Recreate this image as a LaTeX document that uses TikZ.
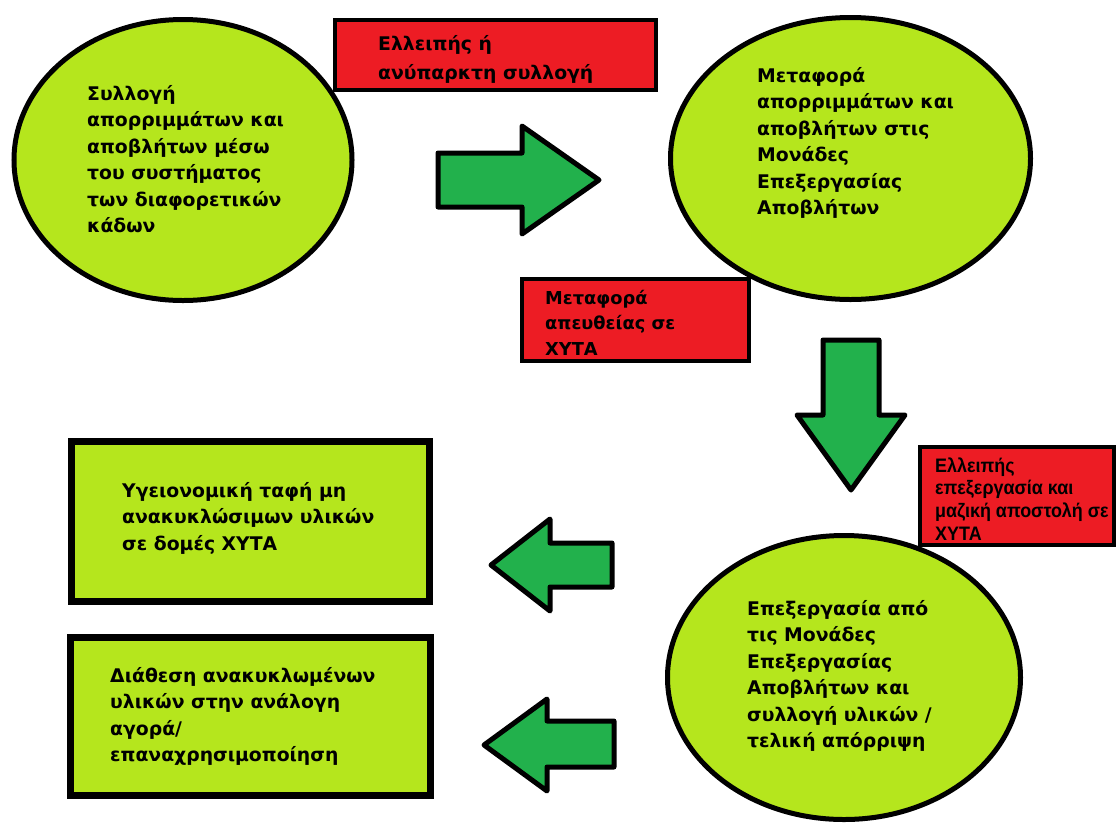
\documentclass[tikz,border=0pt]{standalone}
\usepackage{fontspec}
\setmainfont{Liberation Sans}
\newfontfamily\dvs{DejaVu Sans}
\newfontfamily\narrowfont[FakeStretch=0.92]{Liberation Sans}
\usetikzlibrary{shapes.geometric}
\definecolor{limefill}{RGB}{181,230,29}
\definecolor{redfill}{RGB}{237,28,36}
\definecolor{arrowgreen}{RGB}{34,177,76}
\begin{document}
\begin{tikzpicture}[x=1pt,y=-1pt,
  oval/.style={ellipse, draw=black, line width=5pt, fill=limefill, inner sep=0pt},
  gbox/.style={rectangle, draw=black, line width=7pt, fill=limefill, inner sep=0pt},
  rbox/.style={rectangle, draw=black, line width=4pt, fill=redfill, inner sep=0pt},
  blockarrow/.style={draw=black, line width=5pt, fill=arrowgreen, line join=round},
  txt/.style={anchor=north west, inner sep=0pt, align=left, font=\dvs\bfseries\fontsize{18.8}{26.5}\selectfont},
  smalltxt/.style={anchor=north west, inner sep=0pt, align=left, font=\narrowfont\bfseries\fontsize{19.5}{22.7}\selectfont}]
\useasboundingbox[fill=white] (0,0) rectangle (1116,823);

% ovals
\node[oval, minimum width=338pt, minimum height=281pt] (e1) at (183,160) {};
\node[oval, minimum width=360pt, minimum height=282pt] (e2) at (850.5,158.5) {};
\node[oval, minimum width=353pt, minimum height=284pt] (e3) at (844,677.5) {};

% green boxes
\node[gbox, minimum width=358pt, minimum height=160pt] (g1) at (250.5,521.5) {};
\node[gbox, minimum width=360pt, minimum height=158pt] (g2) at (250.5,716.5) {};

% block arrows
\draw[blockarrow] (438,153) -- (522,153) -- (522,126) -- (599,180) -- (522,234) -- (522,207) -- (438,207) -- cycle;
\draw[blockarrow] (823,340) -- (879,340) -- (879,415) -- (905,415) -- (851,490) -- (797,415) -- (823,415) -- cycle;
\draw[blockarrow] (612,543) -- (550,543) -- (550,519) -- (491,565) -- (550,611) -- (550,587) -- (612,587) -- cycle;
\draw[blockarrow] (614,721) -- (547,721) -- (547,699) -- (484,745) -- (547,791) -- (547,767) -- (614,767) -- cycle;

% red boxes
\node[rbox, minimum width=321pt, minimum height=70pt] (r1) at (495.5,55) {};
\node[rbox, minimum width=227pt, minimum height=82pt] (r2) at (635.5,320) {};
\node[rbox, minimum width=194pt, minimum height=98pt] (r3) at (1017,496) {};

% texts
\node[txt] (t1) at (87,84) {\rule{0pt}{16pt}Συλλογή\\απορριμμάτων και\\αποβλήτων μέσω\\του συστήματος\\των διαφορετικών\\κάδων};
\node[txt] (t2) at (757,66) {\rule{0pt}{16pt}Μεταφορά\\απορριμμάτων και\\αποβλήτων στις\\Μονάδες\\Επεξεργασίας\\Αποβλήτων};
\node[txt] (t3) at (747,599) {\rule{0pt}{16pt}Επεξεργασία από\\τις Μονάδες\\Επεξεργασίας\\Αποβλήτων και\\συλλογή υλικών /\\τελική απόρριψη};
\node[txt] (tg1) at (122,481) {\rule{0pt}{16pt}Υγειονομική ταφή μη\\ανακυκλώσιμων υλικών\\σε δομές ΧΥΤΑ};
\node[txt] (tg2) at (110,666) {\rule{0pt}{16pt}Διάθεση ανακυκλωμένων\\υλικών στην ανάλογη\\αγορά/\\επαναχρησιμοποίηση};
\node[txt, font=\dvs\bfseries\fontsize{18.8}{29}\selectfont] (tr1) at (378,34) {\rule{0pt}{16pt}Ελλειπής ή\\ανύπαρκτη συλλογή};
\node[txt, font=\dvs\bfseries\fontsize{17.8}{25.7}\selectfont] (tr2) at (545,288) {\rule{0pt}{16pt}Μεταφορά\\απευθείας σε\\ΧΥΤΑ};
\node[smalltxt] (tr3) at (935,457) {\rule{0pt}{15pt}Ελλειπής\\επεξεργασία και\\μαζική αποστολή σε\\ΧΥΤΑ};
\end{tikzpicture}
\end{document}
